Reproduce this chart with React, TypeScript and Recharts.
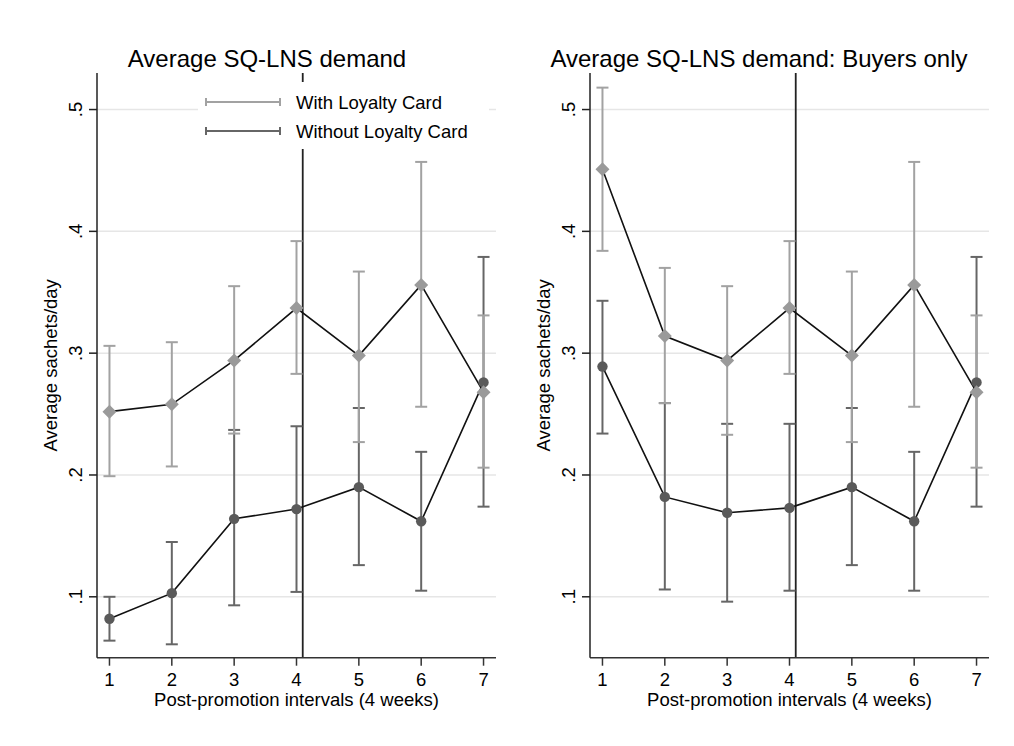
import React from "react";
import {
  ComposedChart,
  Line,
  XAxis,
  YAxis,
  ReferenceLine,
  ErrorBar,
  Legend,
  Customized,
} from "recharts";

const FONT = '"Liberation Sans", Arial, Helvetica, sans-serif';

// === Ejes ===
const intervals = [1, 2, 3, 4, 5, 6, 7];
const xTicks = [1, 2, 3, 4, 5, 6, 7];
const yTicks = [0.1, 0.2, 0.3, 0.4, 0.5];
const cutoff = 4.1;
const seriesNames = ["With Loyalty Card", "Without Loyalty Card"];

// === Panel 1: todos los hogares ===
const allWithMean = [0.252, 0.258, 0.294, 0.337, 0.298, 0.356, 0.268];
const allWithLo = [0.199, 0.207, 0.234, 0.283, 0.227, 0.256, 0.206];
const allWithHi = [0.306, 0.309, 0.355, 0.392, 0.367, 0.457, 0.331];
const allWithoutMean = [0.082, 0.103, 0.164, 0.172, 0.19, 0.162, 0.276];
const allWithoutLo = [0.064, 0.061, 0.093, 0.104, 0.126, 0.105, 0.174];
const allWithoutHi = [0.1, 0.145, 0.237, 0.24, 0.255, 0.219, 0.379];

// === Panel 2: solo compradores ===
const buyWithMean = [0.451, 0.314, 0.294, 0.337, 0.298, 0.356, 0.268];
const buyWithLo = [0.384, 0.259, 0.233, 0.283, 0.227, 0.256, 0.206];
const buyWithHi = [0.518, 0.37, 0.355, 0.392, 0.367, 0.457, 0.331];
const buyWithoutMean = [0.289, 0.182, 0.169, 0.173, 0.19, 0.162, 0.276];
const buyWithoutLo = [0.234, 0.106, 0.096, 0.105, 0.126, 0.105, 0.174];
const buyWithoutHi = [0.343, 0.259, 0.242, 0.242, 0.255, 0.219, 0.379];

const LIGHT = "#a2a2a2";
const LIGHT_MARK = "#9a9a9a";
const DARK = "#666666";
const DARK_MARK = "#5a5a5a";

function buildRows(
  wMean: number[], wLo: number[], wHi: number[],
  oMean: number[], oLo: number[], oHi: number[]
) {
  return intervals.map((x, i) => ({
    x,
    withMean: wMean[i],
    withErr: [wMean[i] - wLo[i], wHi[i] - wMean[i]],
    withoutMean: oMean[i],
    withoutErr: [oMean[i] - oLo[i], oHi[i] - oMean[i]],
  }));
}

const fmtY = (v: number) => v.toFixed(1).replace(/^0/, "");

const YTick = (props: any) => {
  const { x, y, payload } = props;
  return (
    <text
      x={x}
      y={y}
      transform={`rotate(-90 ${x} ${y})`}
      textAnchor="middle"
      fontSize={18.5}
      fontFamily={FONT}
      fill="#000"
    >
      {fmtY(payload.value)}
    </text>
  );
};

const Diamond = (props: any) => {
  const { cx, cy, index } = props;
  const s = 7;
  return (
    <polygon
      key={`d-${index}`}
      points={`${cx},${cy - s} ${cx + s},${cy} ${cx},${cy + s} ${cx - s},${cy}`}
      fill={LIGHT_MARK}
    />
  );
};

const Dot = (props: any) => {
  const { cx, cy, index } = props;
  return <circle key={`c-${index}`} cx={cx} cy={cy} r={5.2} fill={DARK_MARK} />;
};

function LegendBox() {
  const items = [
    { name: seriesNames[0], color: LIGHT },
    { name: seriesNames[1], color: DARK },
  ];
  return (
    <svg width={291} height={67} style={{ display: "block", background: "#fff" }}>
      {items.map((it, i) => {
        const y = 20 + i * 29;
        return (
          <g key={it.name}>
            <line x1={8} x2={82} y1={y} y2={y} stroke={it.color} strokeWidth={2} />
            <line x1={8} x2={8} y1={y - 4} y2={y + 4} stroke={it.color} strokeWidth={2} />
            <line x1={82} x2={82} y1={y - 4} y2={y + 4} stroke={it.color} strokeWidth={2} />
            <text x={98} y={y + 6.6} fontSize={18.5} fontFamily={FONT} fill="#000">
              {it.name}
            </text>
          </g>
        );
      })}
    </svg>
  );
}

function Panel({
  rows, title, titleX, yWidth, rightMargin, showLegend,
}: {
  rows: any[]; title: string; titleX: number; yWidth: number; rightMargin: number; showLegend: boolean;
}) {
  return (
    <ComposedChart
      width={507}
      height={746}
      data={rows}
      margin={{ top: 73, right: rightMargin, left: 0, bottom: 38.3 }}
    >
      {/* grilla horizontal solo en los ticks */}
      {yTicks.map((t) => (
        <ReferenceLine key={`g-${t}`} y={t} stroke="#e6e6e6" strokeWidth={1.5} />
      ))}
      <XAxis
        dataKey="x"
        type="number"
        domain={[0.8, 7.2]}
        ticks={xTicks}
        allowDataOverflow
        height={50}
        tickSize={8}
        tickMargin={7}
        stroke="#333"
        strokeWidth={1.5}
        tick={{ fontSize: 18.5, fontFamily: FONT, fill: "#000" }}
        label={{
          content: (p: any) => {
            const vb = p.viewBox;
            return (
              <text
                x={vb.x + vb.width / 2}
                y={vb.y + 48.3}
                textAnchor="middle"
                fontSize={18.5}
                fontFamily={FONT}
                fill="#000"
              >
                Post-promotion intervals (4 weeks)
              </text>
            );
          },
        }}
      />
      <YAxis
        type="number"
        domain={[0.05, 0.53]}
        ticks={yTicks}
        allowDataOverflow
        width={yWidth}
        tickSize={8}
        tickMargin={6.5}
        stroke="#222"
        strokeWidth={1.5}
        tick={<YTick />}
        label={{
          content: (p: any) => {
            const vb = p.viewBox;
            const cx = vb.x + vb.width - 39.5;
            const cy = vb.y + vb.height / 2;
            return (
              <text
                x={cx}
                y={cy}
                transform={`rotate(-90 ${cx} ${cy})`}
                textAnchor="middle"
                fontSize={18.5}
                fontFamily={FONT}
                fill="#000"
              >
                Average sachets/day
              </text>
            );
          },
        }}
      />
      <ReferenceLine x={cutoff} stroke="#222" strokeWidth={1.8} />
      <Line
        dataKey="withoutMean"
        name={seriesNames[1]}
        stroke="#111"
        strokeWidth={1.6}
        dot={Dot}
        activeDot={false}
        isAnimationActive={false}
      >
        <ErrorBar dataKey="withoutErr" direction="y" width={6} stroke={DARK} strokeWidth={2} />
      </Line>
      <Line
        dataKey="withMean"
        name={seriesNames[0]}
        stroke="#111"
        strokeWidth={1.6}
        dot={Diamond}
        activeDot={false}
        isAnimationActive={false}
      >
        <ErrorBar dataKey="withErr" direction="y" width={6} stroke={LIGHT} strokeWidth={2} />
      </Line>
      {showLegend && (
        <Legend
          layout="vertical"
          align="center"
          verticalAlign="middle"
          wrapperStyle={{ left: 198, top: 82, width: 291, height: 67, background: "#fff" }}
          content={() => <LegendBox />}
        />
      )}
      <Customized
        component={() => (
          <text x={titleX} y={67} textAnchor="middle" fontSize={24} fontFamily={FONT} fill="#000">
            {title}
          </text>
        )}
      />
    </ComposedChart>
  );
}

export default function App() {
  const allRows = buildRows(allWithMean, allWithLo, allWithHi, allWithoutMean, allWithoutLo, allWithoutHi);
  const buyRows = buildRows(buyWithMean, buyWithLo, buyWithHi, buyWithoutMean, buyWithoutLo, buyWithoutHi);

  return (
    <div
      style={{
        position: "absolute",
        left: 0,
        top: 0,
        width: 1014,
        height: 746,
        background: "#fff",
        fontFamily: FONT,
      }}
    >
      <div style={{ position: "absolute", left: 0, top: 0 }}>
        <Panel
          rows={allRows}
          title="Average SQ-LNS demand"
          titleX={267}
          yWidth={97}
          rightMargin={11}
          showLegend
        />
      </div>
      <div style={{ position: "absolute", left: 507, top: 0 }}>
        <Panel
          rows={buyRows}
          title="Average SQ-LNS demand: Buyers only"
          titleX={252}
          yWidth={83}
          rightMargin={25}
          showLegend={false}
        />
      </div>
    </div>
  );
}
